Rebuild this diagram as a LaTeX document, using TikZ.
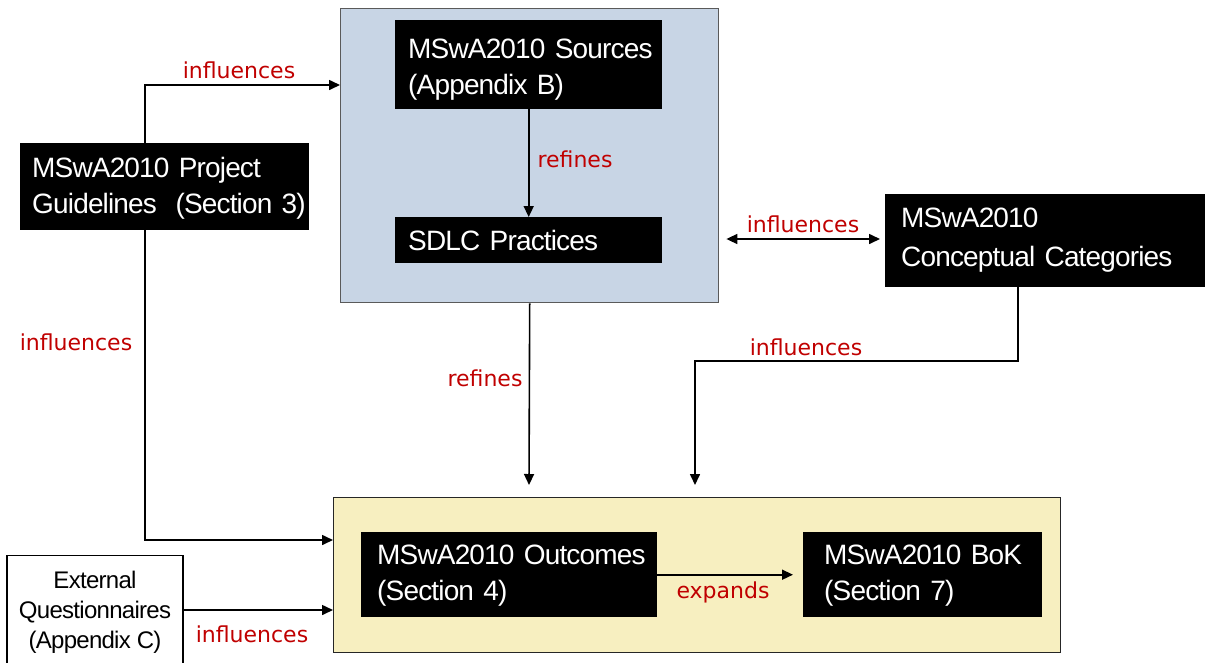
\documentclass[tikz,border=0pt]{standalone}
\usepackage{fontspec}
\setmainfont{Liberation Sans}
\newfontfamily\boxfont[LetterSpace=-3]{Liberation Sans}
\newfontfamily\lblfont{DejaVu Sans}
\usetikzlibrary{arrows.meta,calc}
\definecolor{panelblue}{HTML}{C8D5E5}
\definecolor{panelyellow}{HTML}{F7EFC0}
\definecolor{lblred}{HTML}{C00000}
\definecolor{panelline}{HTML}{5A5A5A}

\begin{document}
\begin{tikzpicture}[x=1pt,y=-1pt,
  panel/.style={draw=panelline,line width=1.4pt,anchor=north west,inner sep=0pt},
  blk/.style={fill=black,text=white,font=\boxfont\fontsize{28}{36}\selectfont,
    align=left,anchor=north west,inner ysep=0pt},
  plain/.style={draw=black,line width=1.2pt,fill=white,font=\boxfont\fontsize{24}{30}\selectfont,
    align=center,anchor=north,inner ysep=15pt},
  lbl/.style={text=lblred,font=\lblfont\fontsize{22}{24}\selectfont,anchor=base,inner sep=0pt},
  tip/.tip={Triangle[length=11pt,width=10pt]},
  conn/.style={draw=black,line width=1.6pt,-tip},
  conntwo/.style={draw=black,line width=1.6pt,tip-tip}
]
\useasboundingbox (0,0) rectangle (1205,662);

% grouping panels
\node[panel,fill=panelblue,minimum width=378pt,minimum height=294pt] (blue) at (340,8) {};
\node[panel,fill=panelyellow,draw=black!85,minimum width=727pt,minimum height=155pt] (yel) at (333,497) {};

% black boxes (text height = first baseline below the top edge)
\node[blk,minimum width=267pt,inner xsep=13pt,text width=241pt,text height=38pt,text depth=51pt] (src) at (395,20)
  {\mbox{MSwA2010 Sources}\\\mbox{(Appendix B)}};
\node[blk,minimum width=267pt,inner xsep=13pt,text width=241pt,text height=33pt,text depth=13pt] (sdlc) at (395,217)
  {\mbox{SDLC Practices}};
\node[blk,minimum width=289pt,inner xsep=12pt,text width=265pt,text height=34pt,text depth=53pt] (pg) at (20,143)
  {\mbox{MSwA2010 Project}\\\mbox{Guidelines\ \ (Section 3)}};
\node[blk,minimum width=320pt,inner xsep=16pt,text width=288pt,text height=33pt,text depth=60pt,
  font=\boxfont\fontsize{28}{39}\selectfont] (cc) at (885,194)
  {\mbox{MSwA2010}\\\mbox{Conceptual Categories}};
\node[blk,minimum width=296pt,inner xsep=16pt,text width=264pt,text height=32pt,text depth=53pt] (out) at (361,532)
  {\mbox{MSwA2010 Outcomes}\\\mbox{(Section 4)}};
\node[blk,minimum width=239pt,inner xsep=21pt,text width=197pt,text height=32pt,text depth=53pt] (bok) at (803,532)
  {\mbox{MSwA2010 BoK}\\\mbox{(Section 7)}};

% external source, running off the lower edge
\node[plain,minimum width=176pt,text depth=60pt] (ext) at (95,555)
  {External\\Questionnaires\\(Appendix C)};

% helper points for the routed connectors
\coordinate (pgx) at (145,85);
\coordinate (pgy) at (145,540);
\coordinate (exty) at (0,610);
\coordinate (dy) at (0,239);
\coordinate (ccx) at (1018,361);
\coordinate (ccend) at (695,485);
\coordinate (bend) at (529,485);

% connectors
\draw[conn] (pg.north -| pgx) |- (blue.west |- pgx);
\draw[conn] (pg.south -| pgx) |- (yel.west |- pgy);
\draw[conn] (ext.east |- exty) -- (yel.west |- exty);
\draw[conn] (src.south) -- (sdlc.north);
\draw[conntwo] ([xshift=7pt]blue.east |- dy) -- ([xshift=-5pt]cc.west |- dy);
\draw[conn] (blue.south) -- (bend);
\draw[conn] (cc.south -| ccx) |- (ccend |- ccx) -- (ccend);
\draw[conn,shorten >=10pt] (out.east) -- (out.east -| bok.west);

% connector labels
\node[lbl] (l1) at (239,78) {influences};
\node[lbl] (l2) at (575,167) {refines};
\node[lbl] (l3) at (76,350) {influences};
\node[lbl] (l4) at (803,232) {influences};
\node[lbl] (l5) at (806,355) {influences};
\node[lbl] (l6) at (485,386) {refines};
\node[lbl] (l7) at (723,598) {expands};
\node[lbl] (l8) at (252,642) {influences};
\end{tikzpicture}
\end{document}
